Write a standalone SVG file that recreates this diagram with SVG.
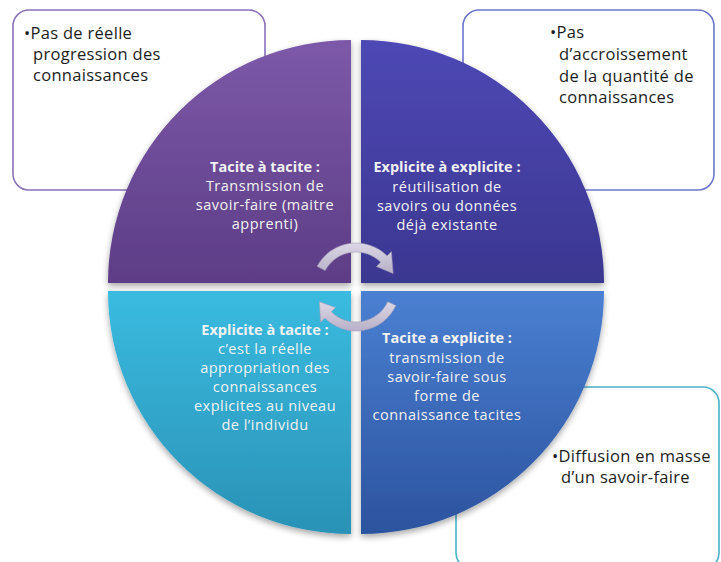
<svg xmlns="http://www.w3.org/2000/svg" width="721" height="562" viewBox="0 0 721 562">
<defs>
<linearGradient id="gTL" x1="0" y1="0" x2="0" y2="1"><stop offset="0" stop-color="#7d59a9"/><stop offset="1" stop-color="#5d3d86"/></linearGradient>
<linearGradient id="gTR" x1="0" y1="0" x2="0" y2="1"><stop offset="0" stop-color="#4e48b5"/><stop offset="1" stop-color="#3b3790"/></linearGradient>
<linearGradient id="gBL" x1="0" y1="0" x2="0" y2="1"><stop offset="0" stop-color="#3abbe0"/><stop offset="1" stop-color="#2a92b6"/></linearGradient>
<linearGradient id="gBR" x1="0" y1="0" x2="0" y2="1"><stop offset="0" stop-color="#4a80d2"/><stop offset="1" stop-color="#2c539e"/></linearGradient>
<linearGradient id="gArr" x1="0" y1="0" x2="0" y2="1"><stop offset="0" stop-color="#dcd7e6"/><stop offset="1" stop-color="#b7b0c8"/></linearGradient>
<filter id="sh" x="-10%" y="-10%" width="120%" height="125%"><feDropShadow dx="0" dy="3" stdDeviation="3" flood-color="#000" flood-opacity="0.35"/></filter>
</defs>
<style>
.box{fill:#ffffff;stroke-width:1.6}
.bt{font-family:"Open Sans","Liberation Sans",sans-serif;font-size:16.5px;letter-spacing:0.3px;fill:#1c1c1c}
.qt{font-family:"Open Sans","Liberation Sans",sans-serif;font-size:14.5px;letter-spacing:0.5px;fill:#f2f2f2;text-anchor:middle}
.qh{font-weight:700;letter-spacing:0px}
.arr{fill:url(#gArr);stroke:#a59eb8;stroke-width:0.6}
</style>
<rect width="721" height="562" fill="#ffffff"/>
<g id="box-tl">
<rect class="box" x="13" y="10" width="252" height="180" rx="16" stroke="#8b72b8"/>
<text class="bt"><tspan x="24" y="39">•Pas de réelle</tspan><tspan x="33" y="60">progression des</tspan><tspan x="33" y="81">connaissances</tspan></text>
</g>
<g id="box-tr">
<rect class="box" x="463" y="10" width="251" height="180" rx="16" stroke="#6d76cf"/>
<text class="bt"><tspan x="550" y="38">•Pas</tspan><tspan x="559" y="60">d’accroissement</tspan><tspan x="559" y="82">de la quantité de</tspan><tspan x="559" y="103">connaissances</tspan></text>
</g>
<g id="box-br">
<rect class="box" x="456" y="387" width="263" height="182" rx="16" stroke="#4ab2c9"/>
<text class="bt"><tspan x="552" y="462">•Diffusion en masse</tspan><tspan x="561" y="483">d’un savoir-faire</tspan></text>
</g>
<g id="q-tl">
<path d="M351 283 L108 283 A243 243 0 0 1 351 40 Z" fill="url(#gTL)" filter="url(#sh)"/>
<text class="qt"><tspan class="qh" x="265" y="172">Tacite à tacite :</tspan><tspan x="265" y="191">Transmission de</tspan><tspan x="265" y="210">savoir-faire (maitre</tspan><tspan x="265" y="229">apprenti)</tspan></text>
</g>
<g id="q-tr">
<path d="M361 283 L361 40 A243 243 0 0 1 604 283 Z" fill="url(#gTR)" filter="url(#sh)"/>
<text class="qt"><tspan class="qh" x="447" y="172">Explicite à explicite :</tspan><tspan x="447" y="192">réutilisation de</tspan><tspan x="447" y="211">savoirs ou données</tspan><tspan x="447" y="230">déjà existante</tspan></text>
</g>
<g id="q-bl">
<path d="M351 291 L351 534 A243 243 0 0 1 108 291 Z" fill="url(#gBL)" filter="url(#sh)"/>
<text class="qt"><tspan class="qh" x="265" y="335">Explicite à tacite :</tspan><tspan x="265" y="354">c’est la réelle</tspan><tspan x="265" y="373">appropriation des</tspan><tspan x="265" y="392">connaissances</tspan><tspan x="265" y="411">explicites au niveau</tspan><tspan x="265" y="430">de l’individu</tspan></text>
</g>
<g id="q-br">
<path d="M361 291 L604 291 A243 243 0 0 1 361 534 Z" fill="url(#gBR)" filter="url(#sh)"/>
<text class="qt"><tspan class="qh" x="447" y="343">Tacite a explicite :</tspan><tspan x="447" y="363">transmission de</tspan><tspan x="447" y="382">savoir-faire sous</tspan><tspan x="447" y="401">forme de</tspan><tspan x="447" y="420">connaissance tacites</tspan></text>
</g>
<g id="connectors">
<path class="arr" d="M317.15 266.36 A44 44 0 0 1 387.11 255.89 L391.36 251.64 L393.12 273.49 L376.51 266.49 L380.75 262.25 A35 35 0 0 0 325.1 270.58 Z"/>
<path class="arr" d="M395.88 305.59 A44 44 0 0 1 324.89 318.11 L320.64 322.36 L319.38 301.8 L335.49 307.51 L331.25 311.75 A35 35 0 0 0 387.72 301.79 Z"/>
</g>
</svg>
